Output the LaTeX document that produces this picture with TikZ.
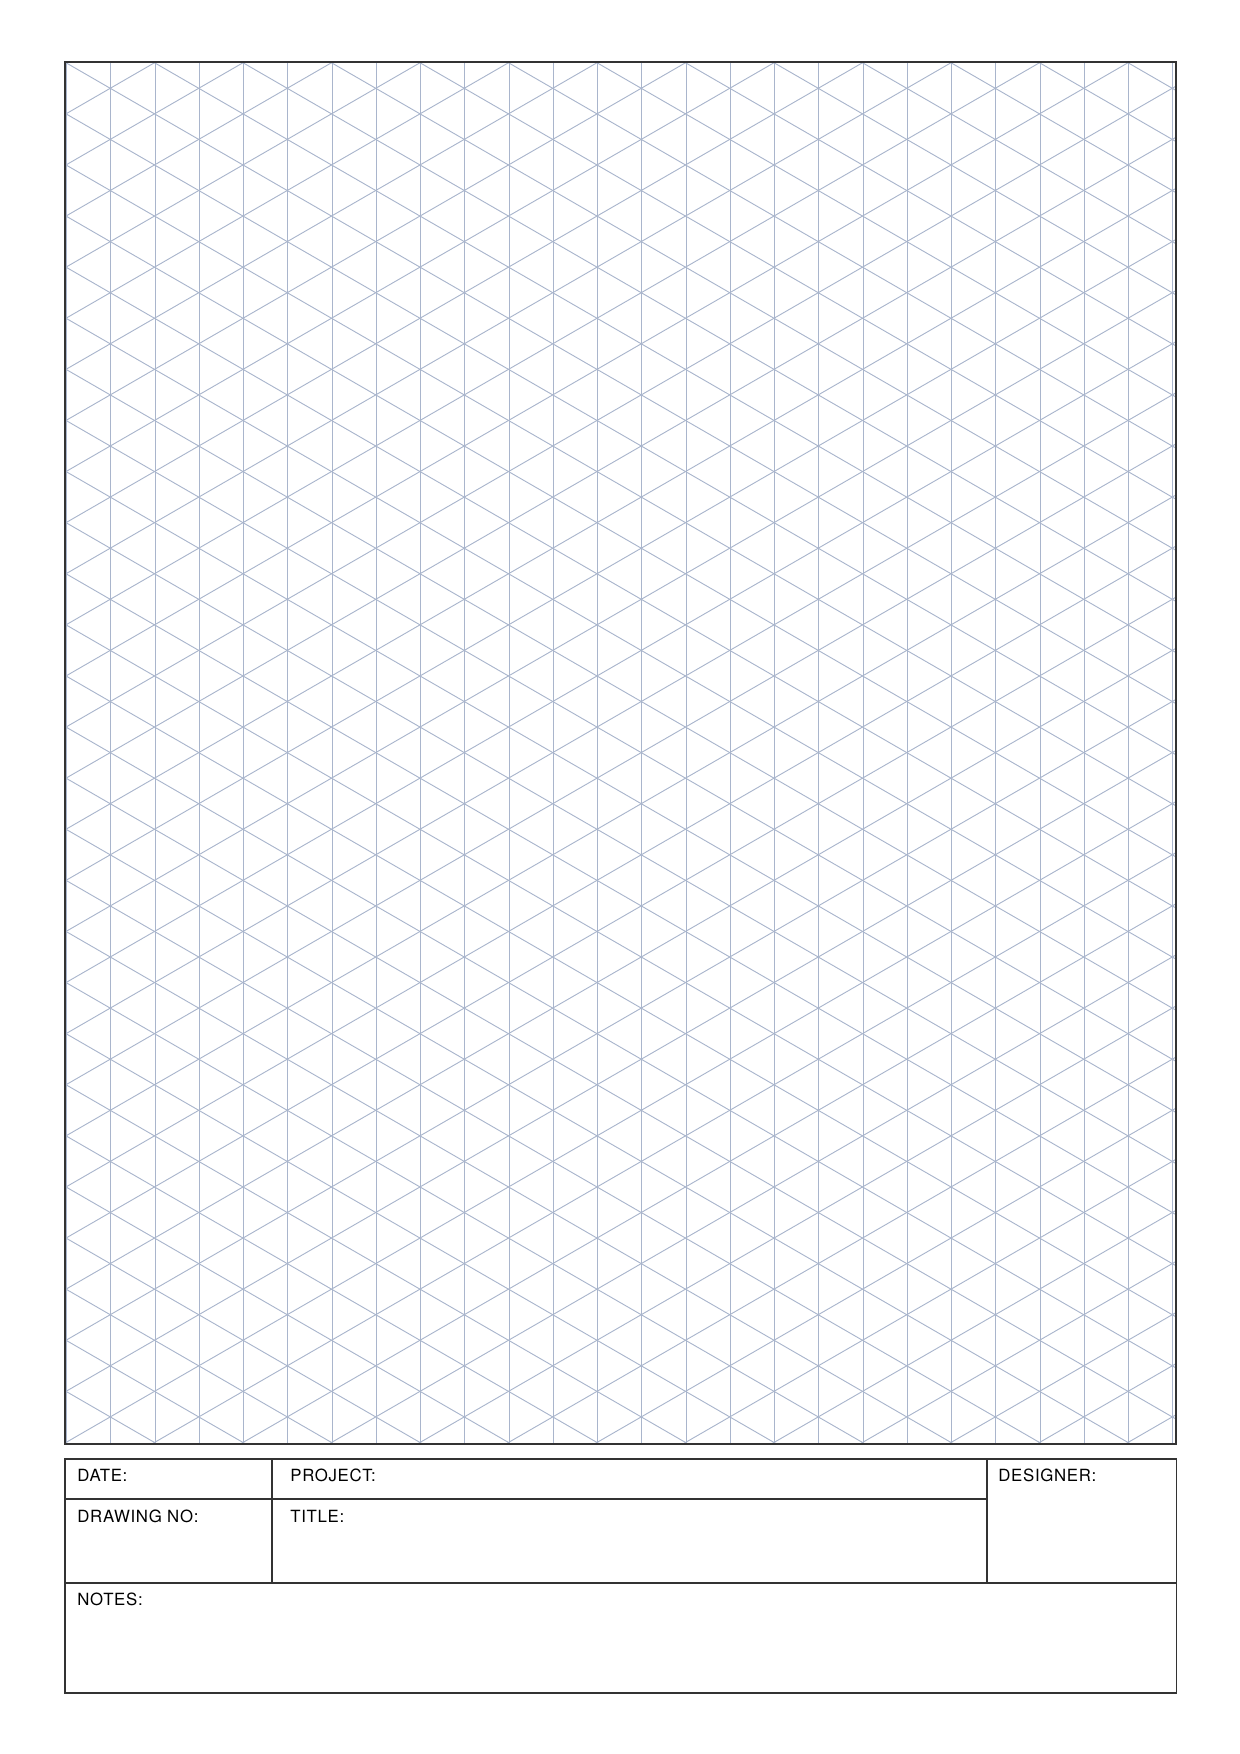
\documentclass[tikz,border=0pt]{standalone}
\usepackage{fontspec}
\setmainfont{TeX Gyre Heros}[LetterSpace=4]
\usepackage{xcolor}
\usetikzlibrary{positioning}
\definecolor{isoblue}{HTML}{A9B5CC}
\definecolor{framegray}{HTML}{333333}
\tikzset{
  gridline/.style={isoblue, line width=0.45pt},
  frameline/.style={framegray, line width=1pt},
  boxline/.style={framegray, line width=0.9pt},
  fieldlabel/.style={anchor=base west, inner sep=0pt, font=\fontsize{8.1}{9.7}\selectfont}
}

\begin{document}
\begin{tikzpicture}[x=0.169355mm, y=-0.169355mm]
  \useasboundingbox (0,0) rectangle (1240,1754);
  % isometric grid
  \begin{scope}
    \clip (65,61.7) rectangle (1175.7,1443.7);
    \foreach \k in {0,...,25}
      \draw[gridline] ({66.5+44.25*\k},50) -- ({66.5+44.25*\k},1460);
    \foreach \n in {-15,...,30}
      \draw[gridline] (60,{62.75+51.1*\n-3.46}) -- (1190,{62.75+51.1*\n+649}); 
    \foreach \n in {0,...,42}
      \draw[gridline] (60,{62.75+51.1*\n+3.46}) -- (1190,{62.75+51.1*\n-649});
  \end{scope}
  \draw[frameline] (65,61.7) rectangle (1175.7,1443.7);

  % title block
  \draw[boxline] (65,1459.3) rectangle (1176.5,1693.3);
  \draw[boxline] (65,1499) -- (987,1499);
  \draw[boxline] (65,1583) -- (1176.5,1583);
  \draw[boxline] (272.3,1459.3) -- (272.3,1583);
  \draw[boxline] (987,1459.3) -- (987,1583);

  \node[fieldlabel] (date) at (77,1481) {DATE:};
  \node[fieldlabel] (project) at (290,1481) {PROJECT:};
  \node[fieldlabel] (designer) at (998,1481) {DESIGNER:};
  \node[fieldlabel] (drawno) at (77,1522) {DRAWING NO:};
  \node[fieldlabel] (title) at (290,1522) {TITLE:};
  \node[fieldlabel] (notes) at (77,1605) {NOTES:};
\end{tikzpicture}
\end{document}
